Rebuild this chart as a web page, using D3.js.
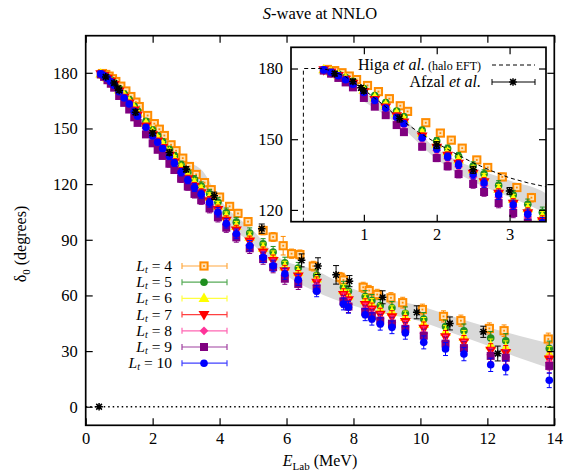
<!DOCTYPE html>
<meta charset="utf-8">
<html>
<head>
    <title>S-wave at NNLO</title>
    <script src="https://cdn.jsdelivr.net/npm/d3@7"></script>
</head>
<style>
    body { margin: 0; background: white; }
    text { font-family: "Liberation Serif", "Times New Roman", serif; fill: black; }
</style>
<body>
<div id="chartdiv"></div>
<script>

// lattice energies (MeV) shared by Lt = 5..10
const energy = [0.45, 0.55, 0.65, 0.75, 0.85, 1.0, 1.15, 1.3, 1.45, 1.55, 1.8, 2.0, 2.15, 2.3, 2.5,
    2.65, 2.85, 3.05, 3.25, 3.45, 3.7, 3.95, 4.2, 4.5, 4.9, 5.3, 5.6, 5.95, 6.35, 6.9,
    7.7, 7.85, 8.35, 8.55, 8.8, 9.15, 9.55, 10.1, 10.75, 11.3, 12.1, 12.55, 13.85];
const errLat = [0.3, 0.4, 0.5, 0.5, 0.6, 0.7, 0.8, 1.0, 1.0, 1.2, 1.3, 1.5, 1.5, 1.6, 1.8,
    1.8, 2.0, 2.0, 2.2, 2.2, 2.4, 2.5, 2.5, 2.6, 2.8, 2.8, 3.0, 3.0, 3.0, 3.0,
    3.2, 3.2, 3.2, 3.3, 3.3, 3.4, 3.4, 3.5, 3.5, 3.6, 3.6, 3.8, 4.0];
const deltaLt5 = [179.6, 178.8, 177.6, 176.2, 174.6, 171.5, 168.5, 165.6, 162.0, 159.5, 153.8, 149.2, 146.0, 142.8, 138.6,
    135.2, 130.4, 126.3, 122.4, 119.0, 114.8, 110.2, 104.6, 99.5, 93.6, 87.8, 83.4, 77.6, 74.8, 70.8,
    64.4, 62.2, 59.4, 57.2, 54.5, 53.3, 50.4, 47.3, 43.2, 41.0, 37.0, 35.6, 31.4];
const deltaLt6 = [179.5, 178.6, 177.3, 175.8, 174.1, 170.8, 167.7, 164.6, 161.0, 158.4, 152.6, 147.9, 144.6, 141.3, 137.1,
    133.6, 128.8, 124.6, 120.6, 117.2, 112.9, 108.2, 102.5, 97.3, 91.4, 85.5, 81.0, 75.4, 72.6, 69.0,
    62.6, 59.8, 57.2, 55.0, 52.2, 51.0, 48.2, 44.6, 40.2, 37.5, 32.9, 31.7, 28.4];
const deltaLt7 = [179.4, 178.4, 177.0, 175.4, 173.6, 170.1, 166.8, 163.6, 159.9, 157.2, 151.3, 146.5, 143.1, 139.7, 135.5,
    131.9, 127.0, 122.8, 118.7, 115.3, 110.9, 106.2, 100.4, 95.2, 89.2, 83.3, 78.8, 73.2, 70.4, 67.0,
    60.4, 57.6, 55.0, 52.6, 49.8, 48.4, 45.8, 42.2, 37.6, 34.8, 30.4, 29.2, 25.6];
const deltaLt8 = [179.3, 178.2, 176.7, 175.0, 173.1, 169.4, 166.0, 162.6, 158.8, 156.0, 150.0, 145.2, 141.7, 138.3, 134.0,
    130.4, 125.4, 121.1, 117.0, 113.5, 109.0, 104.2, 98.4, 93.1, 87.0, 81.1, 76.6, 71.0, 68.2, 65.4,
    58.1, 55.2, 52.6, 50.2, 47.4, 45.6, 43.0, 39.6, 35.0, 32.2, 28.0, 26.8, 23.8];
const deltaLt9 = [179.1, 177.8, 176.0, 174.1, 172.0, 167.5, 163.8, 160.2, 156.0, 153.0, 146.8, 142.0, 138.5, 135.2, 131.0,
    127.6, 122.9, 118.7, 114.7, 111.3, 106.9, 102.1, 96.5, 91.3, 85.4, 79.6, 75.2, 69.0, 66.2, 63.8,
    56.8, 54.0, 51.2, 49.0, 46.4, 44.8, 42.0, 38.3, 34.0, 31.6, 27.4, 26.4, 22.0];
const deltaLt10 = [179.4, 178.4, 176.9, 175.2, 173.3, 169.8, 166.4, 163.2, 159.3, 156.6, 150.6, 146.0, 142.6, 139.2, 135.0,
    131.4, 126.4, 122.2, 118.2, 114.6, 110.0, 104.8, 98.8, 93.2, 86.8, 80.6, 76.0, 71.7, 68.4, 62.3,
    55.4, 53.6, 49.6, 47.3, 44.6, 42.8, 39.8, 34.7, 31.1, 28.4, 22.6, 21.0, 14.3];

// Lt = 4 sits on its own energies
const energyLt4 = [0.5, 0.6, 0.7, 0.8, 0.9, 1.05, 1.2, 1.35, 1.5, 1.6, 1.85, 2.05, 2.2, 2.35, 2.55,
    2.7, 2.9, 3.1, 3.3, 3.55, 3.75, 4.0, 4.3, 4.55, 4.85, 5.3, 5.6, 5.9, 6.15, 6.4,
    6.8, 7.6, 7.7, 8.29, 8.47, 8.71, 9.12, 9.47, 10.06, 10.69, 11.21, 12.06, 12.5, 13.82];
const deltaLt4 = [179.6, 179.1, 178.2, 176.8, 175.3, 172.8, 170.2, 167.2, 164.2, 161.8, 157.0, 152.6, 149.6, 146.2, 141.2,
    138.0, 134.0, 129.5, 125.2, 120.8, 117.0, 113.0, 108.0, 104.2, 99.8, 95.0, 91.5, 86.8, 82.5, 82.0,
    75.8, 69.8, 68.3, 64.4, 62.6, 60.5, 58.7, 56.1, 52.4, 48.7, 46.4, 42.2, 41.0, 36.5];
const errLt4 = [0.3, 0.3, 0.4, 0.5, 0.5, 0.6, 0.7, 0.8, 0.9, 1.0, 1.1, 1.2, 1.3, 1.4, 1.5,
    1.5, 1.6, 1.7, 1.8, 1.9, 2.0, 2.0, 2.1, 2.2, 2.2, 2.3, 2.4, 5.0, 2.5, 2.5,
    2.6, 2.6, 2.7, 2.7, 2.8, 2.8, 2.8, 2.9, 2.9, 3.0, 3.0, 3.0, 3.1, 3.2];

// Afzal et al. data
const energyAfzal = [0.4, 0.6, 0.85, 0.96, 1.0, 1.49, 2.0, 2.5, 3.0, 3.84, 5.26, 6.45, 6.94, 7.48, 7.88, 8.87, 9.89, 10.88, 11.88, 12.31];
const deltaAfzal = [0, 177.8, 174.5, 171.8, 170.5, 158.8, 147.5, 137.0, 128.0, 113.7, 96.0, 78.9, 75.8, 71.1, 67.7, 59.0, 50.9, 44.9, 40.4, 28.7];
const errAfzal = [0, 1.0, 1.0, 1.0, 1.0, 1.5, 1.5, 1.5, 1.5, 2.0, 2.5, 3.5, 4.5, 5.0, 3.0, 3.5, 3.5, 3.5, 3.0, 4.0];

// Higa et al. (halo EFT) curve, inset only
const energyHiga = [0.17, 0.17, 0.4, 0.5, 0.6, 0.75, 1.0, 1.25, 1.5, 1.75, 2.0, 2.25, 2.5, 2.75, 3.0, 3.25, 3.5];
const deltaHiga = [115, 180, 180, 179.5, 178.6, 176.5, 171.0, 165.0, 158.5, 153.0, 148.3, 144.0, 140.0, 136.6, 133.6, 131.5, 129.8];

// grey uncertainty band
const bandE = [1.0, 1.5, 2.0, 2.5, 3.0, 3.5, 4.0, 5.0, 5.8, 6.8, 8.0, 9.0, 9.8, 11.0, 12.0, 13.0, 14.0];
const bandLo = [166.0, 155.5, 141.5, 132.0, 125.5, 118.0, 103.0, 87.5, 73.5, 62.6, 54.5, 50.0, 47.0, 39.5, 33.0, 26.0, 20.0];
const bandHi = [170.0, 160.0, 146.0, 138.0, 132.5, 127.0, 112.0, 95.0, 80.0, 74.0, 63.5, 58.0, 55.2, 48.5, 43.0, 38.0, 33.5];

// axis ticks
const xTicks = [0, 2, 4, 6, 8, 10, 12, 14];
const yTicks = [0, 30, 60, 90, 120, 150, 180];
const xTicksInset = [1, 2, 3];
const yTicksInset = [120, 150, 180];

// series table
const series = [
    {lt: "4", e: energyLt4, d: deltaLt4, err: errLt4, color: "#ff8c00", shape: "opensquare"},
    {lt: "5", e: energy, d: deltaLt5, err: errLat, color: "#1f8f1f", shape: "circle"},
    {lt: "6", e: energy, d: deltaLt6, err: errLat, color: "#ffff00", shape: "triangle"},
    {lt: "7", e: energy, d: deltaLt7, err: errLat, color: "#ff0000", shape: "downtriangle"},
    {lt: "8", e: energy, d: deltaLt8, err: errLat, color: "#ff3399", shape: "diamond"},
    {lt: "9", e: energy, d: deltaLt9, err: errLat, color: "#800080", shape: "square"},
    {lt: "10", e: energy, d: deltaLt10, err: errLat, color: "#0000ff", shape: "circle"}
];

const W = 565, H = 471;
const svg = d3.select("#chartdiv").append("svg")
    .attr("width", W).attr("height", H)
    .style("background", "white");

// scales for main plot and inset
var x = d3.scaleLinear().domain([0, 14]).range([85.7, 554.3]);
var y = d3.scaleLinear().domain([-10, 200]).range([425.3, 35.7]);
var xi = d3.scaleLinear().domain([0, 3.5]).range([291, 546]);
var yi = d3.scaleLinear().domain([115, 189]).range([221.7, 47.3]);

function drawSymbol(g, shape, px, py, color) {
    if (shape == "opensquare") {
        g.append("rect").attr("x", px - 3.6).attr("y", py - 3.6).attr("width", 7.2).attr("height", 7.2)
            .attr("fill", "#ffe2b8").attr("stroke", color).attr("stroke-width", 2);
        g.append("rect").attr("x", px - 0.9).attr("y", py - 0.9).attr("width", 1.8).attr("height", 1.8)
            .attr("fill", color);
    } else if (shape == "square") {
        g.append("rect").attr("x", px - 4).attr("y", py - 4).attr("width", 8).attr("height", 8)
            .attr("fill", color);
    } else if (shape == "circle") {
        g.append("circle").attr("cx", px).attr("cy", py).attr("r", 3.8).attr("fill", color);
    } else if (shape == "triangle") {
        g.append("path").attr("d", d3.symbol().type(d3.symbolTriangle).size(52)())
            .attr("transform", "translate(" + px + "," + (py + 0.5) + ")").attr("fill", color);
    } else if (shape == "downtriangle") {
        g.append("path").attr("d", d3.symbol().type(d3.symbolTriangle).size(52)())
            .attr("transform", "translate(" + px + "," + (py - 0.5) + ") rotate(180)").attr("fill", color);
    } else if (shape == "diamond") {
        g.append("path").attr("d", d3.symbol().type(d3.symbolSquare).size(38)())
            .attr("transform", "translate(" + px + "," + py + ") rotate(45)").attr("fill", color);
    } else if (shape == "star") {
        var r = 3.8;
        g.append("path")
            .attr("d", "M" + (px - r) + "," + py + "H" + (px + r) +
                "M" + px + "," + (py - r) + "V" + (py + r) +
                "M" + (px - r * 0.75) + "," + (py - r * 0.75) + "L" + (px + r * 0.75) + "," + (py + r * 0.75) +
                "M" + (px - r * 0.75) + "," + (py + r * 0.75) + "L" + (px + r * 0.75) + "," + (py - r * 0.75))
            .attr("stroke", color).attr("stroke-width", 1.5);
    }
}

function drawErr(g, px, y0, y1, color, cap, width) {
    g.append("path")
        .attr("d", "M" + px + "," + y0 + "V" + y1 +
            "M" + (px - cap) + "," + y0 + "H" + (px + cap) +
            "M" + (px - cap) + "," + y1 + "H" + (px + cap))
        .attr("stroke", color).attr("stroke-width", width).attr("fill", "none");
}

function drawData(g, sx, sy) {
    // band
    var area = d3.area()
        .x((d, i) => sx(bandE[i]))
        .y0((d, i) => sy(bandLo[i]))
        .y1((d, i) => sy(bandHi[i]))
        .curve(d3.curveMonotoneX);
    g.append("path").datum(bandE).attr("d", area).attr("fill", "#d9d9d9");

    // lattice results
    series.forEach(function(s) {
        s.e.forEach(function(e, i) {
            var px = sx(e), py = sy(s.d[i]);
            drawErr(g, px, sy(s.d[i] - s.err[i]), sy(s.d[i] + s.err[i]), s.color, 2.5, 1);
            drawSymbol(g, s.shape, px, py, s.color);
        });
    });

    // Afzal et al.
    energyAfzal.forEach(function(e, i) {
        var px = sx(e), py = sy(deltaAfzal[i]);
        if (errAfzal[i] > 0)
            drawErr(g, px, sy(deltaAfzal[i] - errAfzal[i]), sy(deltaAfzal[i] + errAfzal[i]), "black", 3, 1);
        drawSymbol(g, "star", px, py, "black");
    });
}

function drawFrame(sx, sy, xt, yt) {
    var r = sx.range(), t = sy.range();
    var gb = svg.append("g").attr("transform", "translate(0," + t[0] + ")")
        .call(d3.axisBottom(sx).tickValues(xt).tickSize(-7).tickPadding(7).tickFormat(d3.format("d")));
    var gt = svg.append("g").attr("transform", "translate(0," + t[1] + ")")
        .call(d3.axisTop(sx).tickValues(xt).tickSize(-7).tickFormat(""));
    var gl = svg.append("g").attr("transform", "translate(" + r[0] + ",0)")
        .call(d3.axisLeft(sy).tickValues(yt).tickSize(-7).tickPadding(8).tickFormat(d3.format("d")));
    var gr = svg.append("g").attr("transform", "translate(" + r[1] + ",0)")
        .call(d3.axisRight(sy).tickValues(yt).tickSize(-7).tickFormat(""));
    [gb, gt, gl, gr].forEach(function(a) {
        a.select(".domain").remove();
        a.selectAll("line").attr("stroke", "black").attr("stroke-width", 1.2);
        a.selectAll("text").style("font-family", "Liberation Serif, serif").style("font-size", "16.5px").attr("fill", "black");
    });
    svg.append("rect").attr("x", r[0]).attr("y", t[1])
        .attr("width", r[1] - r[0]).attr("height", t[0] - t[1])
        .attr("fill", "none").attr("stroke", "black").attr("stroke-width", 1.7);
}

// main plot
svg.append("clipPath").attr("id", "clipMain").append("rect")
    .attr("x", 85.7).attr("y", 35.7).attr("width", 554.3 - 85.7).attr("height", 425.3 - 35.7);
var gMain = svg.append("g").attr("clip-path", "url(#clipMain)");

// zero axis
gMain.append("line").attr("x1", x(0)).attr("x2", x(14)).attr("y1", y(0)).attr("y2", y(0))
    .attr("stroke", "black").attr("stroke-width", 1.3).attr("stroke-dasharray", "1.5,3");
drawData(gMain, x, y);
drawFrame(x, y, xTicks, yTicks);

// inset
svg.append("rect").attr("x", 291).attr("y", 47.3).attr("width", 546 - 291).attr("height", 221.7 - 47.3)
    .attr("fill", "white");
svg.append("clipPath").attr("id", "clipInset").append("rect")
    .attr("x", 291).attr("y", 47.3).attr("width", 546 - 291).attr("height", 221.7 - 47.3);
var gIn = svg.append("g").attr("clip-path", "url(#clipInset)");
drawData(gIn, xi, yi);
var higa = d3.line().x((d, i) => xi(energyHiga[i])).y((d, i) => yi(deltaHiga[i]));
gIn.append("path").datum(energyHiga).attr("d", higa)
    .attr("fill", "none").attr("stroke", "black").attr("stroke-width", 1).attr("stroke-dasharray", "4,3");

// inset legend
var leg2 = svg.append("g");
var t1 = leg2.append("text").attr("x", 481).attr("y", 70).attr("text-anchor", "end").style("font-size", "16px");
t1.append("tspan").text("Higa ");
t1.append("tspan").style("font-style", "italic").text("et al.");
t1.append("tspan").style("font-size", "12px").text(" (halo EFT)");
leg2.append("line").attr("x1", 492).attr("x2", 535).attr("y1", 65).attr("y2", 65)
    .attr("stroke", "black").attr("stroke-width", 1).attr("stroke-dasharray", "4,3");
var t2 = leg2.append("text").attr("x", 481).attr("y", 87).attr("text-anchor", "end").style("font-size", "16px");
t2.append("tspan").text("Afzal ");
t2.append("tspan").style("font-style", "italic").text("et al.");
leg2.append("path").attr("d", "M492,82H535M492,79V85M535,79V85")
    .attr("stroke", "black").attr("stroke-width", 1).attr("fill", "none");
drawSymbol(leg2, "star", 513, 82, "black");

drawFrame(xi, yi, xTicksInset, yTicksInset);

// main legend
var leg = svg.append("g");
series.forEach(function(s, i) {
    var ly = 266 + i * 16.2;
    var t = leg.append("text").attr("x", 172).attr("y", ly + 5).attr("text-anchor", "end").style("font-size", "15.5px");
    t.append("tspan").style("font-style", "italic").text("L");
    t.append("tspan").style("font-style", "italic").style("font-size", "10px").attr("dy", 2).text("t");
    t.append("tspan").attr("dy", -2).text(" = " + s.lt);
    leg.append("path").attr("d", "M182," + ly + "H227M182," + (ly - 3) + "V" + (ly + 3) + "M227," + (ly - 3) + "V" + (ly + 3))
        .attr("stroke", s.color).attr("stroke-width", 1.2).attr("fill", "none").attr("opacity", 0.75);
    drawSymbol(leg, s.shape, 204, ly, s.color);
});

// title and axis titles
var title = svg.append("text").attr("x", 320).attr("y", 19).attr("text-anchor", "middle").style("font-size", "16.5px");
title.append("tspan").style("font-style", "italic").text("S");
title.append("tspan").text("-wave at NNLO");

var xl = svg.append("text").attr("x", 320).attr("y", 466).attr("text-anchor", "middle").style("font-size", "16px");
xl.append("tspan").style("font-style", "italic").text("E");
xl.append("tspan").style("font-size", "11px").attr("dy", 4).text("Lab");
xl.append("tspan").attr("dy", -4).text("  (MeV)");

var yl = svg.append("text").attr("transform", "translate(26,244) rotate(-90)").attr("text-anchor", "middle").style("font-size", "16px");
yl.append("tspan").text("δ");
yl.append("tspan").style("font-size", "11px").attr("dy", 4).text("0");
yl.append("tspan").attr("dy", -4).text("  (degrees)");

</script>
</body>
</html>
